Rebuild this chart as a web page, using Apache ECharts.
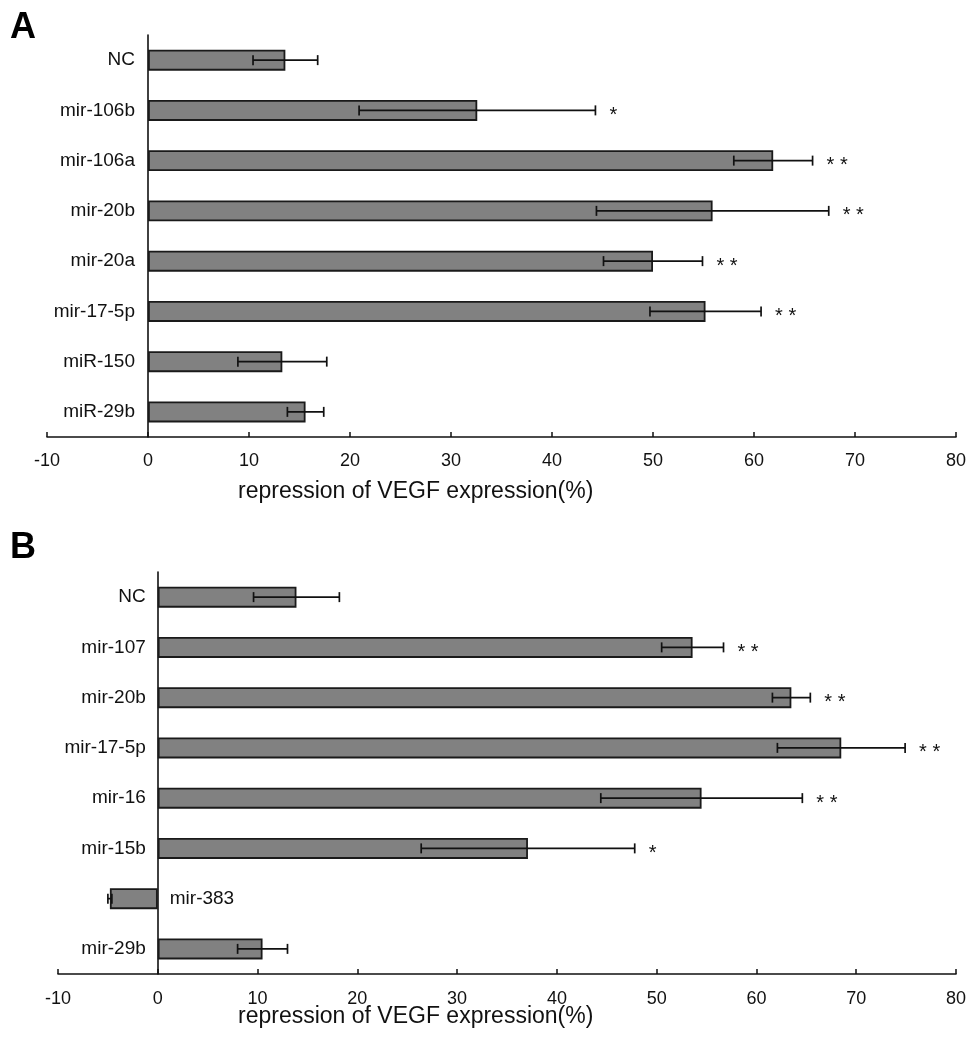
<!DOCTYPE html>
<html>
<head>
<meta charset="utf-8">
<script src="https://cdn.jsdelivr.net/npm/echarts@6/dist/echarts.min.js"></script>
<style>
html,body{margin:0;padding:0;background:#fff;}
#chart{width:968px;height:1039px;}
</style>
</head>
<body>
<div id="chart"></div>
<script>
// ---- Data ----
var categoriesA = ['NC', 'mir-106b', 'mir-106a', 'mir-20b', 'mir-20a', 'mir-17-5p', 'miR-150', 'miR-29b'];
var valuesA = [13.6, 32.6, 61.9, 55.9, 50.0, 55.2, 13.3, 15.6];
var errorsA = [3.2, 11.7, 3.9, 11.5, 4.9, 5.5, 4.4, 1.8];
var signifA = ['', '*', '* *', '* *', '* *', '* *', '', ''];

var categoriesB = ['NC', 'mir-107', 'mir-20b', 'mir-17-5p', 'mir-16', 'mir-15b', 'mir-383', 'mir-29b'];
var valuesB = [13.9, 53.6, 63.5, 68.5, 54.5, 37.1, -4.8, 10.5];
var errorsB = [4.3, 3.1, 1.9, 6.4, 10.1, 10.7, 0.2, 2.5];
var signifB = ['', '* *', '* *', '* *', '* *', '*', '', ''];

var xTickMin = -10, xTickMax = 80, xTickStep = 10;
var axisTitle = 'repression of VEGF expression(%)';
var panelLabels = ['A', 'B'];

// ---- Styles ----
var FONT = '"Liberation Sans", Arial, Helvetica, sans-serif';
var INK = '#111111';

function xAxisCfg(gridIndex, margin) {
  return {
    type: 'value', gridIndex: gridIndex,
    min: xTickMin, max: xTickMax, interval: xTickStep,
    axisLine: { show: true, lineStyle: { color: INK, width: 1.6 } },
    axisTick: { show: true, inside: true, length: 5, lineStyle: { color: INK, width: 1.5 } },
    axisLabel: { color: INK, fontSize: 18, fontFamily: FONT, margin: margin },
    splitLine: { show: false }
  };
}
function yAxisCfg(gridIndex, cats) {
  return {
    type: 'category', gridIndex: gridIndex, data: cats, inverse: true,
    axisLine: { show: true, onZero: true, lineStyle: { color: INK, width: 1.6 } },
    axisTick: { show: false },
    axisLabel: { show: false },
    splitLine: { show: false }
  };
}
function barSeries(axisIndex, vals) {
  return {
    type: 'bar', xAxisIndex: axisIndex, yAxisIndex: axisIndex,
    data: vals, barWidth: 21,
    itemStyle: { color: '#818181', borderColor: '#1a1a1a', borderWidth: 1.8 },
    silent: true, z: 2
  };
}
function errSeries(axisIndex, vals, errs, sig, cats, labelGap) {
  var data = vals.map(function (v, i) { return [v, i, errs[i]]; });
  return {
    type: 'custom', xAxisIndex: axisIndex, yAxisIndex: axisIndex,
    data: data, encode: { x: 0, y: 1 }, z: 5, silent: true,
    renderItem: function (params, api) {
      var v = api.value(0), idx = api.value(1), e = api.value(2);
      var lo = api.coord([v - e, idx]);
      var hi = api.coord([v + e, idx]);
      var z0 = api.coord([0, idx]);
      var y = lo[1];
      var ls = { stroke: INK, lineWidth: 1.7 };
      var children = [
        { type: 'line', shape: { x1: lo[0], y1: y, x2: hi[0], y2: y }, style: ls },
        { type: 'line', shape: { x1: lo[0], y1: y - 5, x2: lo[0], y2: y + 5 }, style: ls },
        { type: 'line', shape: { x1: hi[0], y1: y - 5, x2: hi[0], y2: y + 5 }, style: ls }
      ];
      var s = sig[params.dataIndex];
      if (s) {
        children.push({
          type: 'text',
          style: { x: hi[0] + 14, y: y + 5, text: s, fill: INK, font: '20px ' + FONT, textAlign: 'left', textVerticalAlign: 'middle' }
        });
      }
      var name = cats[params.dataIndex];
      children.push({
        type: 'text',
        style: v < 0
          ? { x: z0[0] + 12, y: y, text: name, fill: INK, font: '19px ' + FONT, textAlign: 'left', textVerticalAlign: 'middle' }
          : { x: z0[0] - labelGap, y: y, text: name, fill: INK, font: '19px ' + FONT, textAlign: 'right', textVerticalAlign: 'middle' }
      });
      return { type: 'group', children: children };
    }
  };
}

var chart = echarts.init(document.getElementById('chart'), null, { renderer: 'canvas' });
chart.setOption({
  animation: false,
  backgroundColor: '#ffffff',
  textStyle: { fontFamily: FONT },
  grid: [
    { left: 47, top: 35, width: 909, height: 402, containLabel: false, outerBoundsMode: 'none' },
    { left: 58, top: 572, width: 898, height: 402, containLabel: false, outerBoundsMode: 'none' }
  ],
  xAxis: [xAxisCfg(0, 15), xAxisCfg(1, 16)],
  yAxis: [yAxisCfg(0, categoriesA), yAxisCfg(1, categoriesB)],
  series: [
    barSeries(0, valuesA), errSeries(0, valuesA, errorsA, signifA, categoriesA, 13),
    barSeries(1, valuesB), errSeries(1, valuesB, errorsB, signifB, categoriesB, 12)
  ],
  graphic: [
    { type: 'text', left: 10, top: 10, style: { text: panelLabels[0], font: 'bold 36px ' + FONT, fill: '#000' } },
    { type: 'text', left: 10, top: 530, style: { text: panelLabels[1], font: 'bold 36px ' + FONT, fill: '#000' } },
    { type: 'text', left: 238, top: 480, style: { text: axisTitle, font: '23px ' + FONT, fill: INK } },
    { type: 'text', left: 238, top: 1005, style: { text: axisTitle, font: '23px ' + FONT, fill: INK } }
  ]
});
</script>
</body>
</html>
